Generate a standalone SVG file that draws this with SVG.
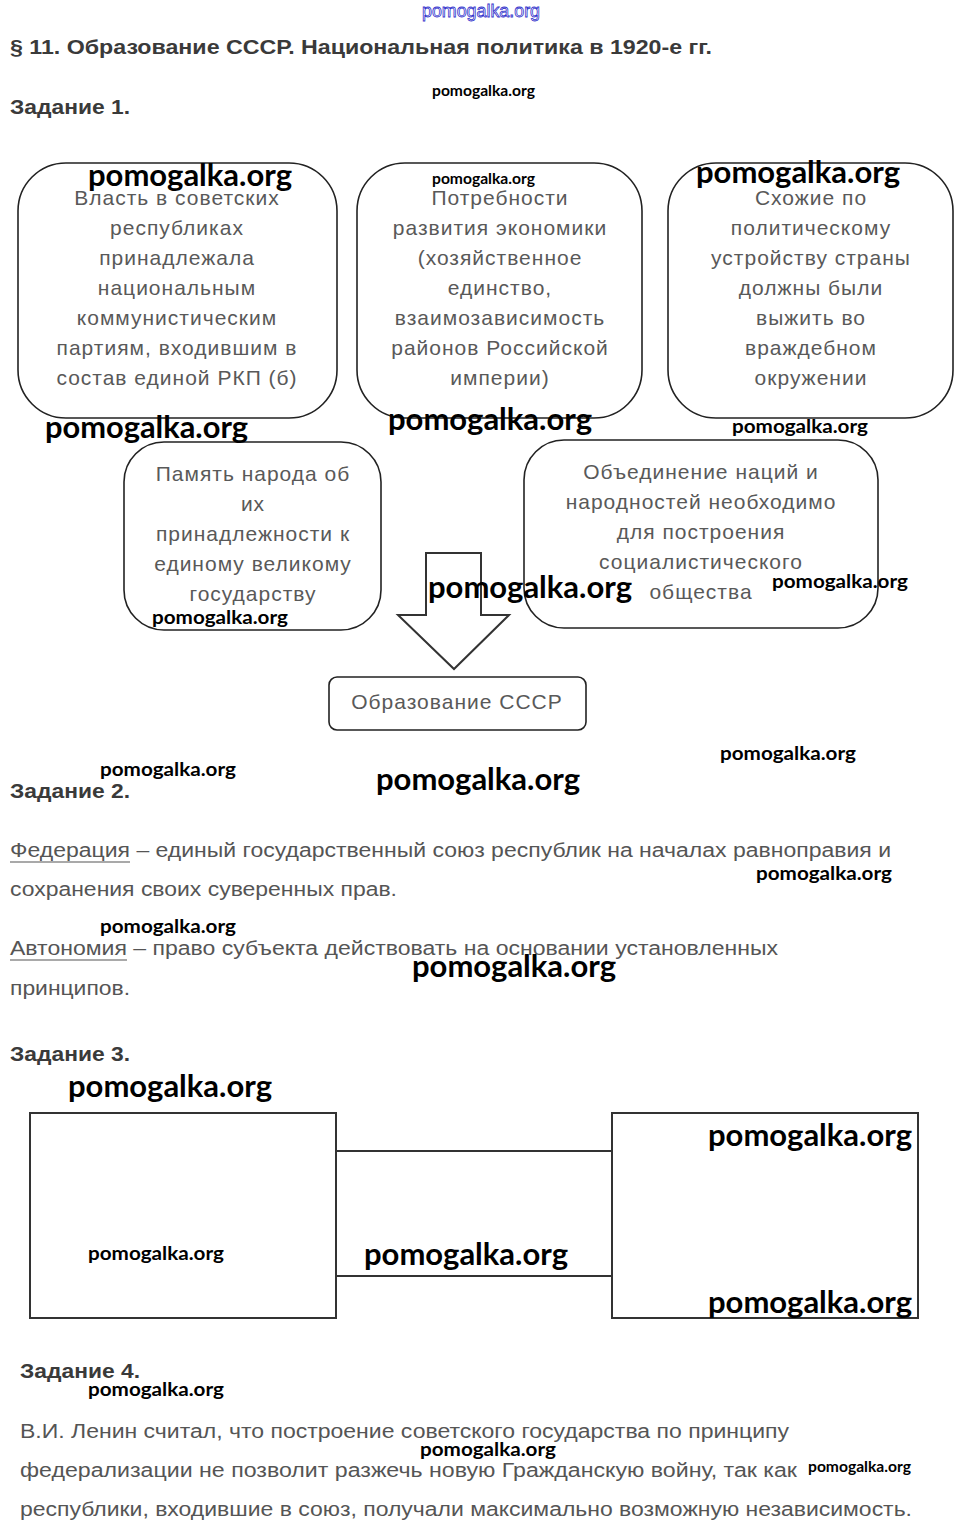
<svg xmlns="http://www.w3.org/2000/svg" width="959" height="1538" viewBox="0 0 959 1538">
<style>
.bg{fill:#fff}
.h{font-family:"Liberation Sans",Arial,sans-serif;font-weight:bold;font-size:21px;fill:#3a3a3a}
.t{font-family:"Liberation Sans",Arial,sans-serif;font-size:20px;fill:#555}
.bt{font-family:"Liberation Sans",Arial,sans-serif;font-size:21px;letter-spacing:1px;fill:#595959;text-anchor:middle}
.box{fill:#fff;stroke:#222;stroke-width:1.6}
.rect{fill:#fff;stroke:#333;stroke-width:2}
.ln{stroke:#333;stroke-width:2;fill:none}
.wl{font-family:Lato,"Open Sans",sans-serif;font-weight:bold;font-size:30px;fill:#000}
.ws{font-family:Lato,"Open Sans",sans-serif;font-weight:bold;font-size:19px;fill:#000}
.wt{font-family:Lato,"Open Sans",sans-serif;font-weight:bold;font-size:15px;fill:#000}
.ul{stroke:#555;stroke-width:1.2}
</style>
<rect class="bg" x="0" y="0" width="959" height="1538"/>

<text x="422" y="17" font-family="'Liberation Sans',Arial,sans-serif" font-size="18" fill="#fff" stroke="#3333cc" stroke-width="0.8" textLength="118" lengthAdjust="spacingAndGlyphs">pomogalka.org</text>

<g id="headings">
<text class="h" x="10" y="54" textLength="702" lengthAdjust="spacingAndGlyphs">§ 11. Образование СССР. Национальная политика в 1920-е гг.</text>
<text class="h" x="10" y="114" textLength="120" lengthAdjust="spacingAndGlyphs">Задание 1.</text>
<text class="h" x="10" y="798" textLength="120" lengthAdjust="spacingAndGlyphs">Задание 2.</text>
<text class="h" x="10" y="1061" textLength="120" lengthAdjust="spacingAndGlyphs">Задание 3.</text>
<text class="h" x="20" y="1378" textLength="120" lengthAdjust="spacingAndGlyphs">Задание 4.</text>
</g>

<g id="connectors">
<path class="ln" d="M426 553 H481 V615 H509 L454 669 L398 615 H426 Z" fill="#fff" stroke-width="1.5"/>
<line class="ln" x1="336" y1="1151" x2="612" y2="1151"/>
<line class="ln" x1="336" y1="1276" x2="612" y2="1276"/>
</g>

<g id="node1">
<rect class="box" x="18" y="163" width="319" height="255" rx="48"/>
<text class="bt" x="177" y="205">Власть в советских</text>
<text class="bt" x="177" y="235">республиках</text>
<text class="bt" x="177" y="265">принадлежала</text>
<text class="bt" x="177" y="295">национальным</text>
<text class="bt" x="177" y="325">коммунистическим</text>
<text class="bt" x="177" y="355">партиям, входившим в</text>
<text class="bt" x="177" y="385">состав единой РКП (б)</text>
</g>

<g id="node2">
<rect class="box" x="357" y="163" width="285" height="255" rx="48"/>
<text class="bt" x="500" y="205">Потребности</text>
<text class="bt" x="500" y="235">развития экономики</text>
<text class="bt" x="500" y="265">(хозяйственное</text>
<text class="bt" x="500" y="295">единство,</text>
<text class="bt" x="500" y="325">взаимозависимость</text>
<text class="bt" x="500" y="355">районов Российской</text>
<text class="bt" x="500" y="385">империи)</text>
</g>

<g id="node3">
<rect class="box" x="668" y="163" width="285" height="255" rx="48"/>
<text class="bt" x="811" y="205">Схожие по</text>
<text class="bt" x="811" y="235">политическому</text>
<text class="bt" x="811" y="265">устройству страны</text>
<text class="bt" x="811" y="295">должны были</text>
<text class="bt" x="811" y="325">выжить во</text>
<text class="bt" x="811" y="355">враждебном</text>
<text class="bt" x="811" y="385">окружении</text>
</g>

<g id="node4">
<rect class="box" x="124" y="442" width="257" height="188" rx="40"/>
<text class="bt" x="253" y="481">Память народа об</text>
<text class="bt" x="253" y="511">их</text>
<text class="bt" x="253" y="541">принадлежности к</text>
<text class="bt" x="253" y="571">единому великому</text>
<text class="bt" x="253" y="601">государству</text>
</g>

<g id="node5">
<rect class="box" x="524" y="440" width="354" height="188" rx="40"/>
<text class="bt" x="701" y="479">Объединение наций и</text>
<text class="bt" x="701" y="509">народностей необходимо</text>
<text class="bt" x="701" y="539">для построения</text>
<text class="bt" x="701" y="569">социалистического</text>
<text class="bt" x="701" y="599">общества</text>
</g>

<g id="node6">
<rect class="box" x="329" y="677" width="257" height="53" rx="8"/>
<text class="bt" x="457" y="709">Образование СССР</text>
</g>

<g id="task2">
<text class="t" x="10" y="857" textLength="881" lengthAdjust="spacingAndGlyphs">Федерация – единый государственный союз республик на началах равноправия и</text>
<line class="ul" x1="10" y1="862" x2="130" y2="862"/>
<text class="t" x="10" y="896" textLength="387" lengthAdjust="spacingAndGlyphs">сохранения своих суверенных прав.</text>
<text class="t" x="10" y="955" textLength="768" lengthAdjust="spacingAndGlyphs">Автономия – право субъекта действовать на основании установленных</text>
<line class="ul" x1="10" y1="960" x2="127" y2="960"/>
<text class="t" x="10" y="995" textLength="120" lengthAdjust="spacingAndGlyphs">принципов.</text>
</g>

<g id="task3-left"><rect class="rect" x="30" y="1113" width="306" height="205"/></g>
<g id="task3-right"><rect class="rect" x="612" y="1113" width="306" height="205"/></g>

<g id="task4">
<text class="t" x="20" y="1438" textLength="769" lengthAdjust="spacingAndGlyphs">В.И. Ленин считал, что построение советского государства по принципу</text>
<text class="t" x="20" y="1477" textLength="777" lengthAdjust="spacingAndGlyphs">федерализации не позволит разжечь новую Гражданскую войну, так как</text>
<text class="t" x="20" y="1516" textLength="892" lengthAdjust="spacingAndGlyphs">республики, входившие в союз, получали максимально возможную независимость.</text>
</g>

<g id="watermarks">
<text class="wt" x="432" y="96" textLength="103" lengthAdjust="spacingAndGlyphs">pomogalka.org</text>
<text class="wl" x="88" y="186" textLength="204" lengthAdjust="spacingAndGlyphs">pomogalka.org</text>
<text class="wt" x="432" y="184" textLength="103" lengthAdjust="spacingAndGlyphs">pomogalka.org</text>
<text class="wl" x="696" y="183" textLength="204" lengthAdjust="spacingAndGlyphs">pomogalka.org</text>
<text class="wl" x="45" y="438" textLength="203" lengthAdjust="spacingAndGlyphs">pomogalka.org</text>
<text class="wl" x="388" y="430" textLength="204" lengthAdjust="spacingAndGlyphs">pomogalka.org</text>
<text class="ws" x="732" y="433" textLength="136" lengthAdjust="spacingAndGlyphs">pomogalka.org</text>
<text class="ws" x="152" y="624" textLength="136" lengthAdjust="spacingAndGlyphs">pomogalka.org</text>
<text class="wl" x="428" y="598" textLength="204" lengthAdjust="spacingAndGlyphs">pomogalka.org</text>
<text class="ws" x="772" y="588" textLength="136" lengthAdjust="spacingAndGlyphs">pomogalka.org</text>
<text class="ws" x="720" y="760" textLength="136" lengthAdjust="spacingAndGlyphs">pomogalka.org</text>
<text class="ws" x="100" y="776" textLength="136" lengthAdjust="spacingAndGlyphs">pomogalka.org</text>
<text class="wl" x="376" y="790" textLength="204" lengthAdjust="spacingAndGlyphs">pomogalka.org</text>
<text class="ws" x="756" y="880" textLength="136" lengthAdjust="spacingAndGlyphs">pomogalka.org</text>
<text class="ws" x="100" y="933" textLength="136" lengthAdjust="spacingAndGlyphs">pomogalka.org</text>
<text class="wl" x="412" y="977" textLength="204" lengthAdjust="spacingAndGlyphs">pomogalka.org</text>
<text class="wl" x="68" y="1097" textLength="204" lengthAdjust="spacingAndGlyphs">pomogalka.org</text>
<text class="wl" x="708" y="1146" textLength="204" lengthAdjust="spacingAndGlyphs">pomogalka.org</text>
<text class="ws" x="88" y="1260" textLength="136" lengthAdjust="spacingAndGlyphs">pomogalka.org</text>
<text class="wl" x="364" y="1265" textLength="204" lengthAdjust="spacingAndGlyphs">pomogalka.org</text>
<text class="wl" x="708" y="1313" textLength="204" lengthAdjust="spacingAndGlyphs">pomogalka.org</text>
<text class="ws" x="88" y="1396" textLength="136" lengthAdjust="spacingAndGlyphs">pomogalka.org</text>
<text class="ws" x="420" y="1456" textLength="136" lengthAdjust="spacingAndGlyphs">pomogalka.org</text>
<text class="wt" x="808" y="1472" textLength="103" lengthAdjust="spacingAndGlyphs">pomogalka.org</text>
</g>
</svg>
